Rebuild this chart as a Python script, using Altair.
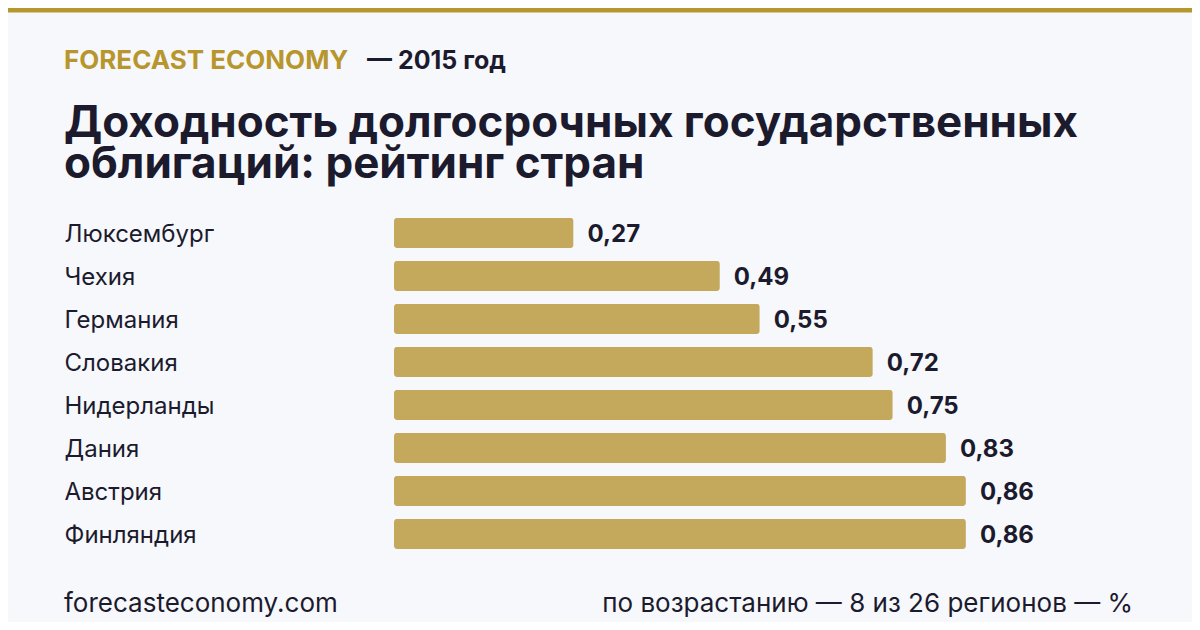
import pandas as pd
import altair as alt

countries = ["Люксембург", "Чехия", "Германия", "Словакия", "Нидерланды", "Дания", "Австрия", "Финляндия"]
yields = [0.27, 0.49, 0.55, 0.72, 0.75, 0.83, 0.86, 0.86]
value_labels = ["0,27", "0,49", "0,55", "0,72", "0,75", "0,83", "0,86", "0,86"]

brand = "FORECAST ECONOMY"
period = "— 2015 год"
title = "Доходность долгосрочных государственных\nоблигаций: рейтинг стран"
site = "forecasteconomy.com"
note = "по возрастанию — 8 из 26 регионов — %"

GOLD = "#B8962E"
BAR = "#C4A85C"
INK = "#1C1B2E"
BG = "#F7F8FC"
FONT = "Inter"

df = pd.DataFrame({"country": countries, "value": yields, "label": value_labels})

y = alt.Y(
    "country:N",
    sort=countries,
    scale=alt.Scale(paddingInner=0.3, paddingOuter=0.15),
    axis=alt.Axis(
        title=None, ticks=False, domain=False, labelAlign="left", labelPadding=330,
        labelFont=FONT, labelFontSize=24, labelColor=INK, labelFontWeight=400,
        labelBaseline="middle", labelOffset=2,
    ),
)
x = alt.X("value:Q", scale=alt.Scale(domain=[0, 1], nice=False), axis=None)

bars = alt.Chart(df).mark_bar(color=BAR, cornerRadius=3).encode(x=x, y=y)
labels = alt.Chart(df).mark_text(
    align="left", baseline="middle", dx=14, dy=2, font=FONT, fontSize=24, fontWeight=700, color=INK
).encode(x=x, y=y, text="label:N")


def text_layer(txt, xpos, ypos, **kw):
    return alt.Chart(pd.DataFrame({"t": [txt]})).mark_text(
        font=FONT, baseline="alphabetic", **kw
    ).encode(text="t:N", x=alt.value(xpos), y=alt.value(ypos))


top_rule = alt.Chart(pd.DataFrame({"t": [0]})).mark_rect(color=GOLD).encode(
    x=alt.value(-386), x2=alt.value(798), y=alt.value(-203.5), y2=alt.value(-199)
)

header = text_layer(brand, -330, -142.5, align="left", fontSize=26, fontWeight=700, color=GOLD)
header2 = text_layer(period, -27, -142.5, align="left", fontSize=25, fontWeight=700, color=INK)
head_title = text_layer(title, -330, -74.5, align="left", fontSize=44, fontWeight=700,
                        color=INK, lineBreak="\n", lineHeight=41)
foot_left = text_layer(site, -330, 400.5, align="left", fontSize=26, color=INK)
foot_right = text_layer(note, 739, 400.5, align="right", fontSize=26, color=INK)

chart = (
    alt.layer(top_rule, bars, labels, header, header2, head_title, foot_left, foot_right)
    .properties(
        width=665,
        height=344,
        autosize=alt.AutoSizeParams(type="none"),
        padding={"left": 386, "top": 203.5, "right": 133, "bottom": 66.5},
        background=BG,
    )
    .configure_view(stroke=None)
)

chart.save("out.html", embed_options={"renderer": "svg", "actions": False})
